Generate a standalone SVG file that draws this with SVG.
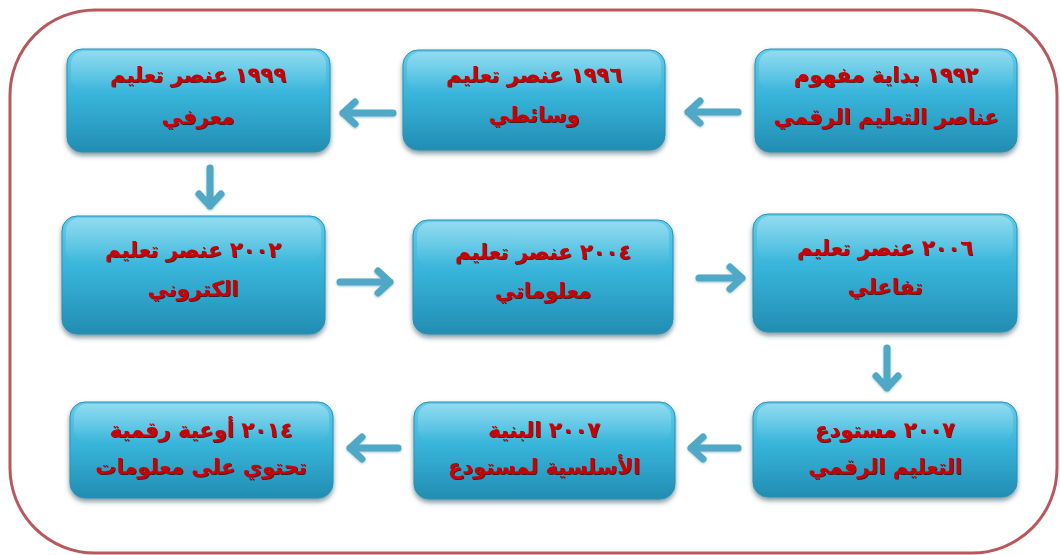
<svg xmlns="http://www.w3.org/2000/svg" width="1060" height="555" viewBox="0 0 1060 555">
<style>
.box{fill:url(#g);stroke:#2a8fb2;stroke-width:1;filter:url(#sh)}
.hl{fill:url(#hl)}
.t{font-family:"DejaVu Sans",sans-serif;font-weight:bold;font-size:21px;fill:#cc0000;text-anchor:middle;direction:rtl;filter:url(#ts)}
.arr{fill:none;stroke:#50a8c6;stroke-width:7;stroke-linecap:round;stroke-linejoin:round;filter:url(#as)}
</style>
<defs>
<linearGradient id="g" x1="0" y1="0" x2="0" y2="1">
<stop offset="0" stop-color="#62cdea"/>
<stop offset="0.45" stop-color="#38b4da"/>
<stop offset="1" stop-color="#228db2"/>
</linearGradient>
<linearGradient id="hl" x1="0" y1="0" x2="0" y2="1">
<stop offset="0" stop-color="#ffffff" stop-opacity="0.3"/>
<stop offset="1" stop-color="#ffffff" stop-opacity="0"/>
</linearGradient>
<filter id="sh" x="-10%" y="-10%" width="120%" height="130%">
<feDropShadow dx="0" dy="3" stdDeviation="2.5" flood-color="#0b3d4f" flood-opacity="0.55"/>
</filter>
<filter id="ts" x="-5%" y="-20%" width="110%" height="140%">
<feDropShadow dx="1" dy="1" stdDeviation="0.4" flood-color="#3a0000" flood-opacity="0.8"/>
</filter>
<filter id="as" x="-20%" y="-50%" width="140%" height="200%">
<feDropShadow dx="0" dy="1" stdDeviation="1" flood-color="#2a6f86" flood-opacity="0.4"/>
</filter>
</defs>
<rect x="0" y="0" width="1060" height="555" fill="#ffffff"/>
<rect id="frame" x="10" y="10" width="1047" height="543" rx="85" ry="85" fill="none" stroke="#b9585c" stroke-width="3"/>

<g id="connectors">
<path class="arr" d="M738 112 H688 M700 101 L688 112 L700 123"/>
<path class="arr" d="M393 113 H343 M355 102 L343 113 L355 124"/>
<path class="arr" d="M210 168 V206 M199 194 L210 206 L221 194"/>
<path class="arr" d="M340 282 H390 M378 271 L390 282 L378 293"/>
<path class="arr" d="M699 278 H742 M730 267 L742 278 L730 289"/>
<path class="arr" d="M887 348 V388 M876 376 L887 388 L898 376"/>
<path class="arr" d="M738 448 H691 M703 437 L691 448 L703 459"/>
<path class="arr" d="M398 448 H350 M362 437 L350 448 L362 459"/>
</g>

<g id="n1992">
<rect class="box" x="755" y="49" width="262" height="103" rx="15"/>
<rect class="hl" x="759" y="51" width="254" height="40" rx="13"/>
<text class="t" x="886" y="82">١٩٩٢ بداية مفهوم</text>
<text class="t" x="886" y="124">عناصر التعليم الرقمي</text>
</g>
<g id="n1996">
<rect class="box" x="403" y="50" width="262" height="100" rx="15"/>
<rect class="hl" x="407" y="52" width="254" height="40" rx="13"/>
<text class="t" x="534" y="82">١٩٩٦ عنصر تعليم</text>
<text class="t" x="534" y="122">وسائطي</text>
</g>
<g id="n1999">
<rect class="box" x="67" y="49" width="263" height="103" rx="15"/>
<rect class="hl" x="71" y="51" width="255" height="40" rx="13"/>
<text class="t" x="198" y="82">١٩٩٩ عنصر تعليم</text>
<text class="t" x="198" y="124">معرفي</text>
</g>
<g id="n2002">
<rect class="box" x="62" y="216" width="263" height="118" rx="15"/>
<rect class="hl" x="66" y="218" width="255" height="45" rx="13"/>
<text class="t" x="193" y="257">٢٠٠٢ عنصر تعليم</text>
<text class="t" x="193" y="296">الكتروني</text>
</g>
<g id="n2004">
<rect class="box" x="413" y="220" width="260" height="114" rx="15"/>
<rect class="hl" x="417" y="222" width="252" height="45" rx="13"/>
<text class="t" x="543" y="259">٢٠٠٤ عنصر تعليم</text>
<text class="t" x="543" y="298">معلوماتي</text>
</g>
<g id="n2006">
<rect class="box" x="753" y="214" width="264" height="118" rx="15"/>
<rect class="hl" x="757" y="216" width="256" height="45" rx="13"/>
<text class="t" x="885" y="255">٢٠٠٦ عنصر تعليم</text>
<text class="t" x="885" y="294">تفاعلي</text>
</g>
<g id="n2007a">
<rect class="box" x="753" y="402" width="264" height="95" rx="15"/>
<rect class="hl" x="757" y="404" width="256" height="38" rx="13"/>
<text class="t" x="885" y="437">٢٠٠٧ مستودع</text>
<text class="t" x="885" y="474">التعليم الرقمي</text>
</g>
<g id="n2007b">
<rect class="box" x="414" y="402" width="261" height="97" rx="15"/>
<rect class="hl" x="418" y="404" width="253" height="38" rx="13"/>
<text class="t" x="544" y="437">٢٠٠٧ البنية</text>
<text class="t" x="544" y="474">الأسلسية لمستودع</text>
</g>
<g id="n2014">
<rect class="box" x="70" y="402" width="263" height="96" rx="15"/>
<rect class="hl" x="74" y="404" width="255" height="38" rx="13"/>
<text class="t" x="201" y="437">٢٠١٤ أوعية رقمية</text>
<text class="t" x="201" y="474">تحتوي على معلومات</text>
</g>
</svg>
